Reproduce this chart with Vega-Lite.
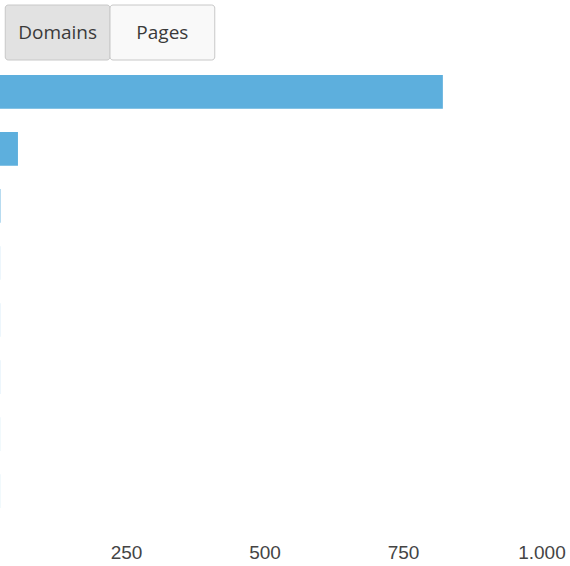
{
  "$schema": "https://vega.github.io/schema/vega-lite/v6.json",
  "padding": {"top": 4, "left": 0, "right": 0, "bottom": 0},
  "spacing": 2,
  "config": {"view": {"stroke": null}},
  "vconcat": [
    {
      "width": 220,
      "height": 55,
      "data": {"values": [
        {"label": "Domains", "state": "active"},
        {"label": "Pages", "state": "inactive"}
      ]},
      "encoding": {
        "x": {"field": "label", "type": "nominal", "sort": null, "axis": null,
              "scale": {"paddingInner": 0, "paddingOuter": 0.05}}
      },
      "layer": [
        {
          "mark": {"type": "rect", "stroke": "#c8c8c8", "strokeWidth": 1, "cornerRadius": 3},
          "encoding": {
            "color": {"field": "state", "type": "nominal", "legend": null,
                      "scale": {"domain": ["active", "inactive"], "range": ["#e2e2e2", "#f9f9f9"]}}
          }
        },
        {
          "mark": {"type": "text", "font": "Open Sans", "fontSize": 19, "color": "#3a3a3a"},
          "encoding": {"text": {"field": "label"}}
        }
      ]
    },
    {
      "width": 570,
      "height": 457,
      "data": {"values": [
        {"domain": "Domain 1", "visits": 822},
        {"domain": "Domain 2", "visits": 55},
        {"domain": "Domain 3", "visits": 23.4},
        {"domain": "Domain 4", "visits": 22.8},
        {"domain": "Domain 5", "visits": 22.8},
        {"domain": "Domain 6", "visits": 22.8},
        {"domain": "Domain 7", "visits": 22.75},
        {"domain": "Domain 8", "visits": 22.75}
      ]},
      "mark": {"type": "bar", "color": "#5dafdd", "clip": true},
      "encoding": {
        "y": {"field": "domain", "type": "nominal", "sort": null, "axis": null,
              "scale": {"paddingInner": 0.41, "paddingOuter": 0.21}},
        "x": {"field": "visits", "type": "quantitative",
              "scale": {"domain": [22.6, 1051.5], "nice": false, "zero": false},
              "axis": {"values": [250, 500, 750, 1000],
                       "labelExpr": "replace(format(datum.value, ','), ',', '.')",
                       "grid": false, "domain": false, "ticks": false,
                       "labelFont": "Liberation Sans", "labelFontSize": 19,
                       "labelColor": "#444444", "labelPadding": 23, "title": null}}
      }
    }
  ]
}
